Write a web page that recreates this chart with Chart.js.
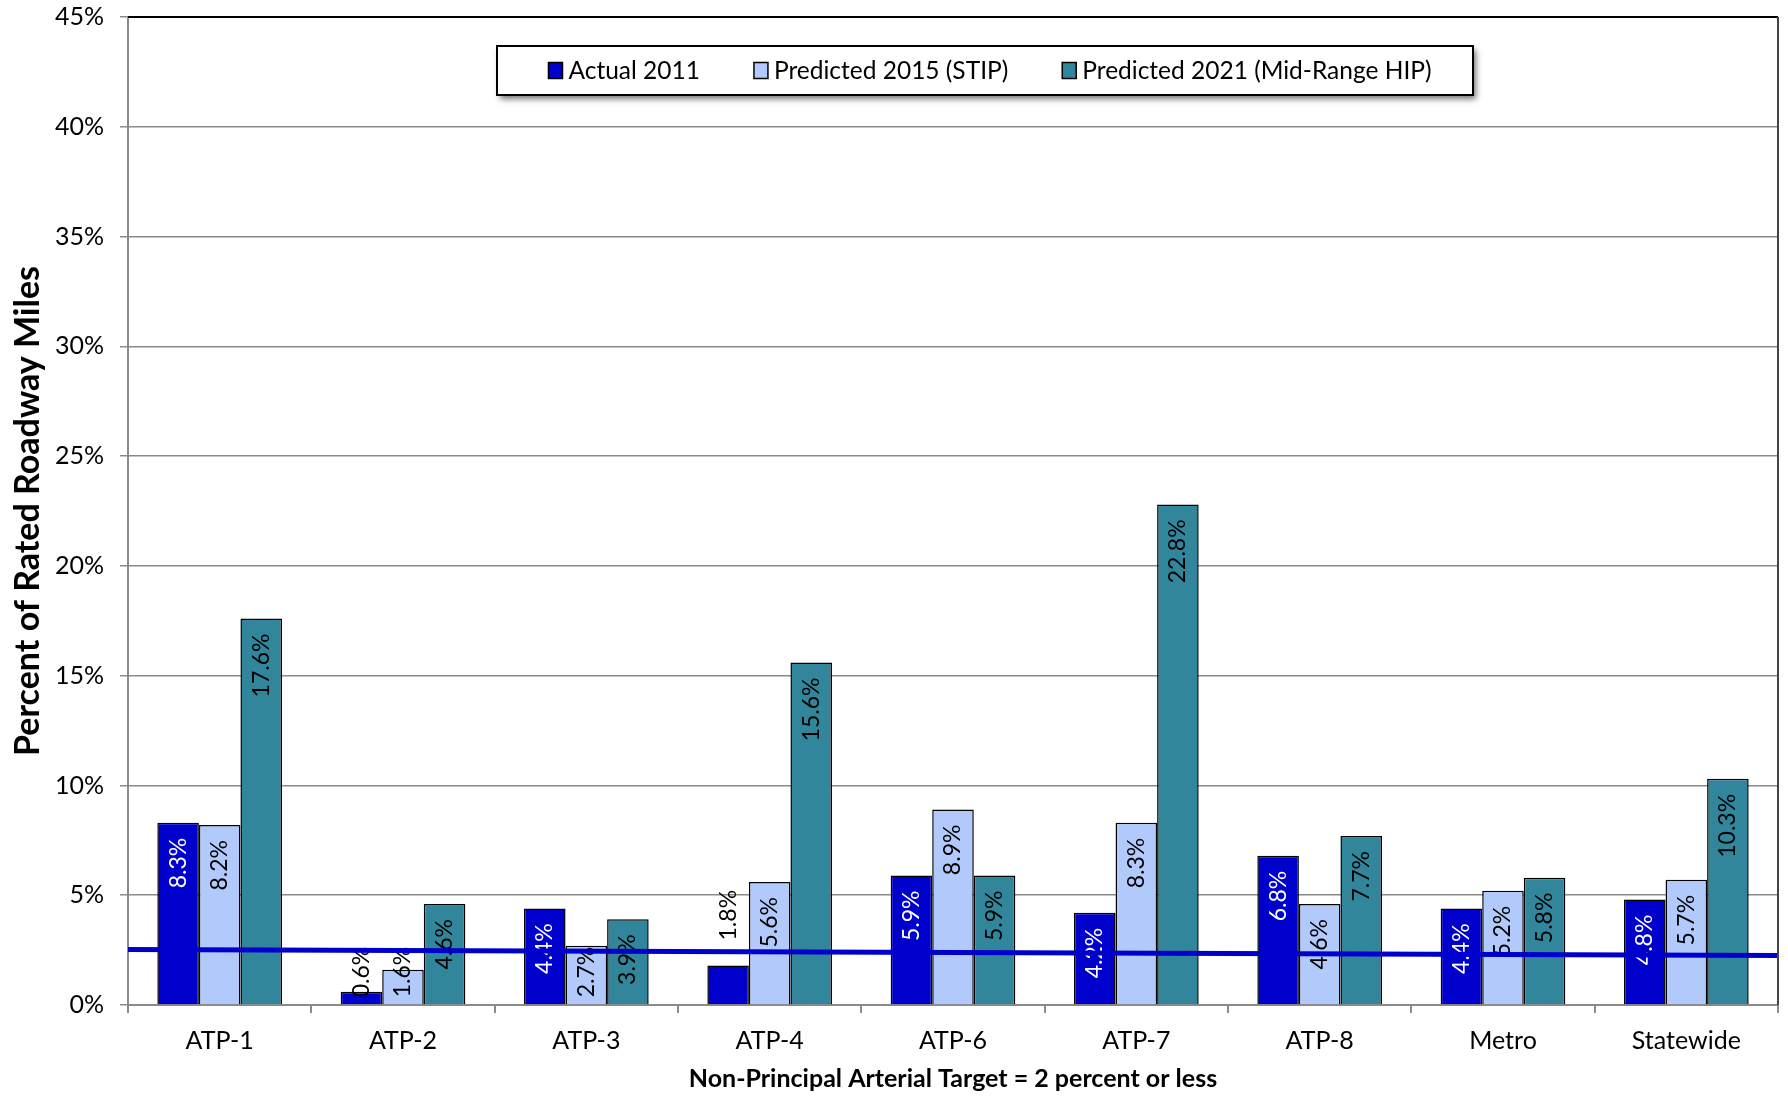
<!DOCTYPE html>
<html>
<head>
<meta charset="utf-8">
<script src="https://cdn.jsdelivr.net/npm/chart.js@4"></script>
<style>
  html, body { margin: 0; padding: 0; background: #fff; }
</style>
</head>
<body>
<canvas id="roadChart" width="1788" height="1096"></canvas>
<script>
const categories = ['ATP-1', 'ATP-2', 'ATP-3', 'ATP-4', 'ATP-6', 'ATP-7', 'ATP-8', 'Metro', 'Statewide'];
const actual2011 = [8.3, 0.6, 4.4, 1.8, 5.9, 4.2, 6.8, 4.4, 4.8];
const predicted2015 = [8.2, 1.6, 2.7, 5.6, 8.9, 8.3, 4.6, 5.2, 5.7];
const predicted2021 = [17.6, 4.6, 3.9, 15.6, 5.9, 22.8, 7.7, 5.8, 10.3];
// target line runs edge to edge of the plot (category index -0.5 .. 8.5)
const targetLine = [{ x: -0.5, y: 2.53 }, { x: 8.5, y: 2.26 }];
const yTicks = [0, 5, 10, 15, 20, 25, 30, 35, 40, 45];

const FONT = 'Lato, "Open Sans", sans-serif';
const gridGray = '#8a8a8a';

// labels inside the bars, rotated
const barLabels = {
    id: 'barLabels',
    afterDatasetDraw(chart, args) {
        const ds = chart.data.datasets[args.index];
        if (ds.type === 'line') return;
        const ctx = chart.ctx;
        ctx.save();
        ctx.font = '23px ' + FONT;
        ctx.textBaseline = 'middle';
        args.meta.data.forEach((el, i) => {
            const txt = ds.data[i].toFixed(1) + '%';
            const w = ctx.measureText(txt).width;
            const h = el.base - el.y;
            ctx.save();
            ctx.translate(el.x, 0);
            ctx.rotate(-Math.PI / 2);
            if (h >= w + 18) {
                ctx.fillStyle = ds.labelColor;
                ctx.textAlign = 'right';
                ctx.fillText(txt, -(el.y + 15), 0);
            } else {
                // too short: black text, above a dark bar, else from the base
                ctx.fillStyle = '#000';
                ctx.textAlign = 'left';
                const start = (ds.labelColor === '#fff' && h > 25) ? el.y - 25 : el.base - 7;
                ctx.fillText(txt, -start, 0);
            }
            ctx.restore();
        });
        ctx.restore();
    }
};

// plot frame and the boxed legend inside the plot
const frameAndLegend = {
    id: 'frameAndLegend',
    afterDraw(chart) {
        const ctx = chart.ctx;
        const a = chart.chartArea;
        ctx.save();
        ctx.strokeStyle = '#000';
        ctx.lineWidth = 2;
        ctx.beginPath();
        ctx.moveTo(a.left, a.top);
        ctx.lineTo(a.right, a.top);
        ctx.stroke();
        ctx.strokeStyle = '#444';
        ctx.beginPath();
        ctx.moveTo(a.right, a.top);
        ctx.lineTo(a.right, a.bottom);
        ctx.stroke();

        // legend box
        const bx = 497, by = 46, bw = 976, bh = 49;
        ctx.save();
        ctx.shadowColor = 'rgba(0,0,0,0.55)';
        ctx.shadowBlur = 6;
        ctx.shadowOffsetX = 3;
        ctx.shadowOffsetY = 4;
        ctx.fillStyle = '#fff';
        ctx.fillRect(bx, by, bw, bh);
        ctx.restore();
        ctx.strokeStyle = '#000';
        ctx.lineWidth = 2;
        ctx.strokeRect(bx, by, bw, bh);

        ctx.font = '24.5px ' + FONT;
        ctx.textBaseline = 'middle';
        ctx.textAlign = 'left';
        const items = chart.data.datasets.filter(d => d.type !== 'line');
        const sw = 14, swGap = 6, itemGap = 54;
        const widths = items.map(d => ctx.measureText(d.label).width);
        let total = widths.reduce((s, w) => s + sw + swGap + w, 0) + itemGap * (items.length - 1);
        let x = bx + bw / 2 - total / 2 + 5;
        const cy = by + bh / 2;
        items.forEach((d, i) => {
            ctx.fillStyle = d.backgroundColor;
            ctx.fillRect(x, cy - 8, sw, 16);
            ctx.strokeStyle = '#000';
            ctx.lineWidth = 1.5;
            ctx.strokeRect(x, cy - 8, sw, 16);
            ctx.fillStyle = '#000';
            ctx.fillText(d.label, x + sw + swGap, cy + 1);
            x += sw + swGap + widths[i] + itemGap;
        });
        ctx.restore();
    }
};

const barStyle = {
    type: 'bar',
    borderColor: '#000',
    borderWidth: 1.5,
    borderSkipped: 'bottom',
    order: 1
};

const config = {
    type: 'bar',
    data: {
        labels: categories,
        datasets: [
            Object.assign({ label: 'Actual 2011', data: actual2011, backgroundColor: '#0000CC', labelColor: '#fff' }, barStyle),
            Object.assign({ label: 'Predicted 2015 (STIP)', data: predicted2015, backgroundColor: '#B1CAFB', labelColor: '#000' }, barStyle),
            Object.assign({ label: 'Predicted 2021 (Mid-Range HIP)', data: predicted2021, backgroundColor: '#31869C', labelColor: '#000' }, barStyle),
            {
                type: 'line',
                label: 'Target',
                data: targetLine,
                parsing: false,
                borderColor: '#0000CC',
                borderWidth: 5,
                pointRadius: 0,
                order: 0
            }
        ]
    },
    options: {
        responsive: false,
        devicePixelRatio: 1,
        animation: false,
        datasets: {
            bar: { categoryPercentage: 0.68, barPercentage: 1 }
        },
        layout: { padding: { top: 17, right: 10, left: 0, bottom: 0 } },
        plugins: {
            legend: { display: false },
            tooltip: { enabled: false }
        },
        scales: {
            x: {
                type: 'category',
                offset: true,
                grid: { offset: true, drawOnChartArea: false, drawTicks: true, tickLength: 8, color: gridGray, lineWidth: 2 },
                border: { color: gridGray, width: 2 },
                ticks: { color: '#000', font: { family: FONT, size: 25 }, padding: 13 },
                title: {
                    display: true,
                    text: 'Non-Principal Arterial Target = 2 percent or less',
                    color: '#000',
                    font: { family: FONT, size: 25, weight: 'bold' },
                    padding: { top: 0, bottom: 2 }
                },
                afterFit(scale) {
                    scale.height = 91;
                    scale.paddingLeft = 0;
                    scale.paddingRight = 0;
                }
            },
            y: {
                min: 0,
                max: 45,
                afterBuildTicks(scale) { scale.ticks = yTicks.map(v => ({ value: v })); },
                grid: { color: gridGray, lineWidth: 1.5, tickLength: 8 },
                border: { color: gridGray, width: 2 },
                ticks: {
                    color: '#000',
                    font: { family: FONT, size: 25 },
                    padding: 16,
                    callback: v => v + '%'
                },
                title: {
                    display: true,
                    text: 'Percent of Rated Roadway Miles',
                    color: '#000',
                    font: { family: FONT, size: 34, weight: 'bold' },
                    padding: { top: 8, bottom: 0 }
                },
                afterFit(scale) {
                    scale.width = 128;
                    scale.paddingTop = 0;
                    scale.paddingBottom = 0;
                }
            }
        }
    },
    plugins: [barLabels, frameAndLegend]
};

document.fonts.load('23px Lato').then(() => {
    const ctx = document.getElementById('roadChart').getContext('2d');
    new Chart(ctx, config);
});
</script>
</body>
</html>
